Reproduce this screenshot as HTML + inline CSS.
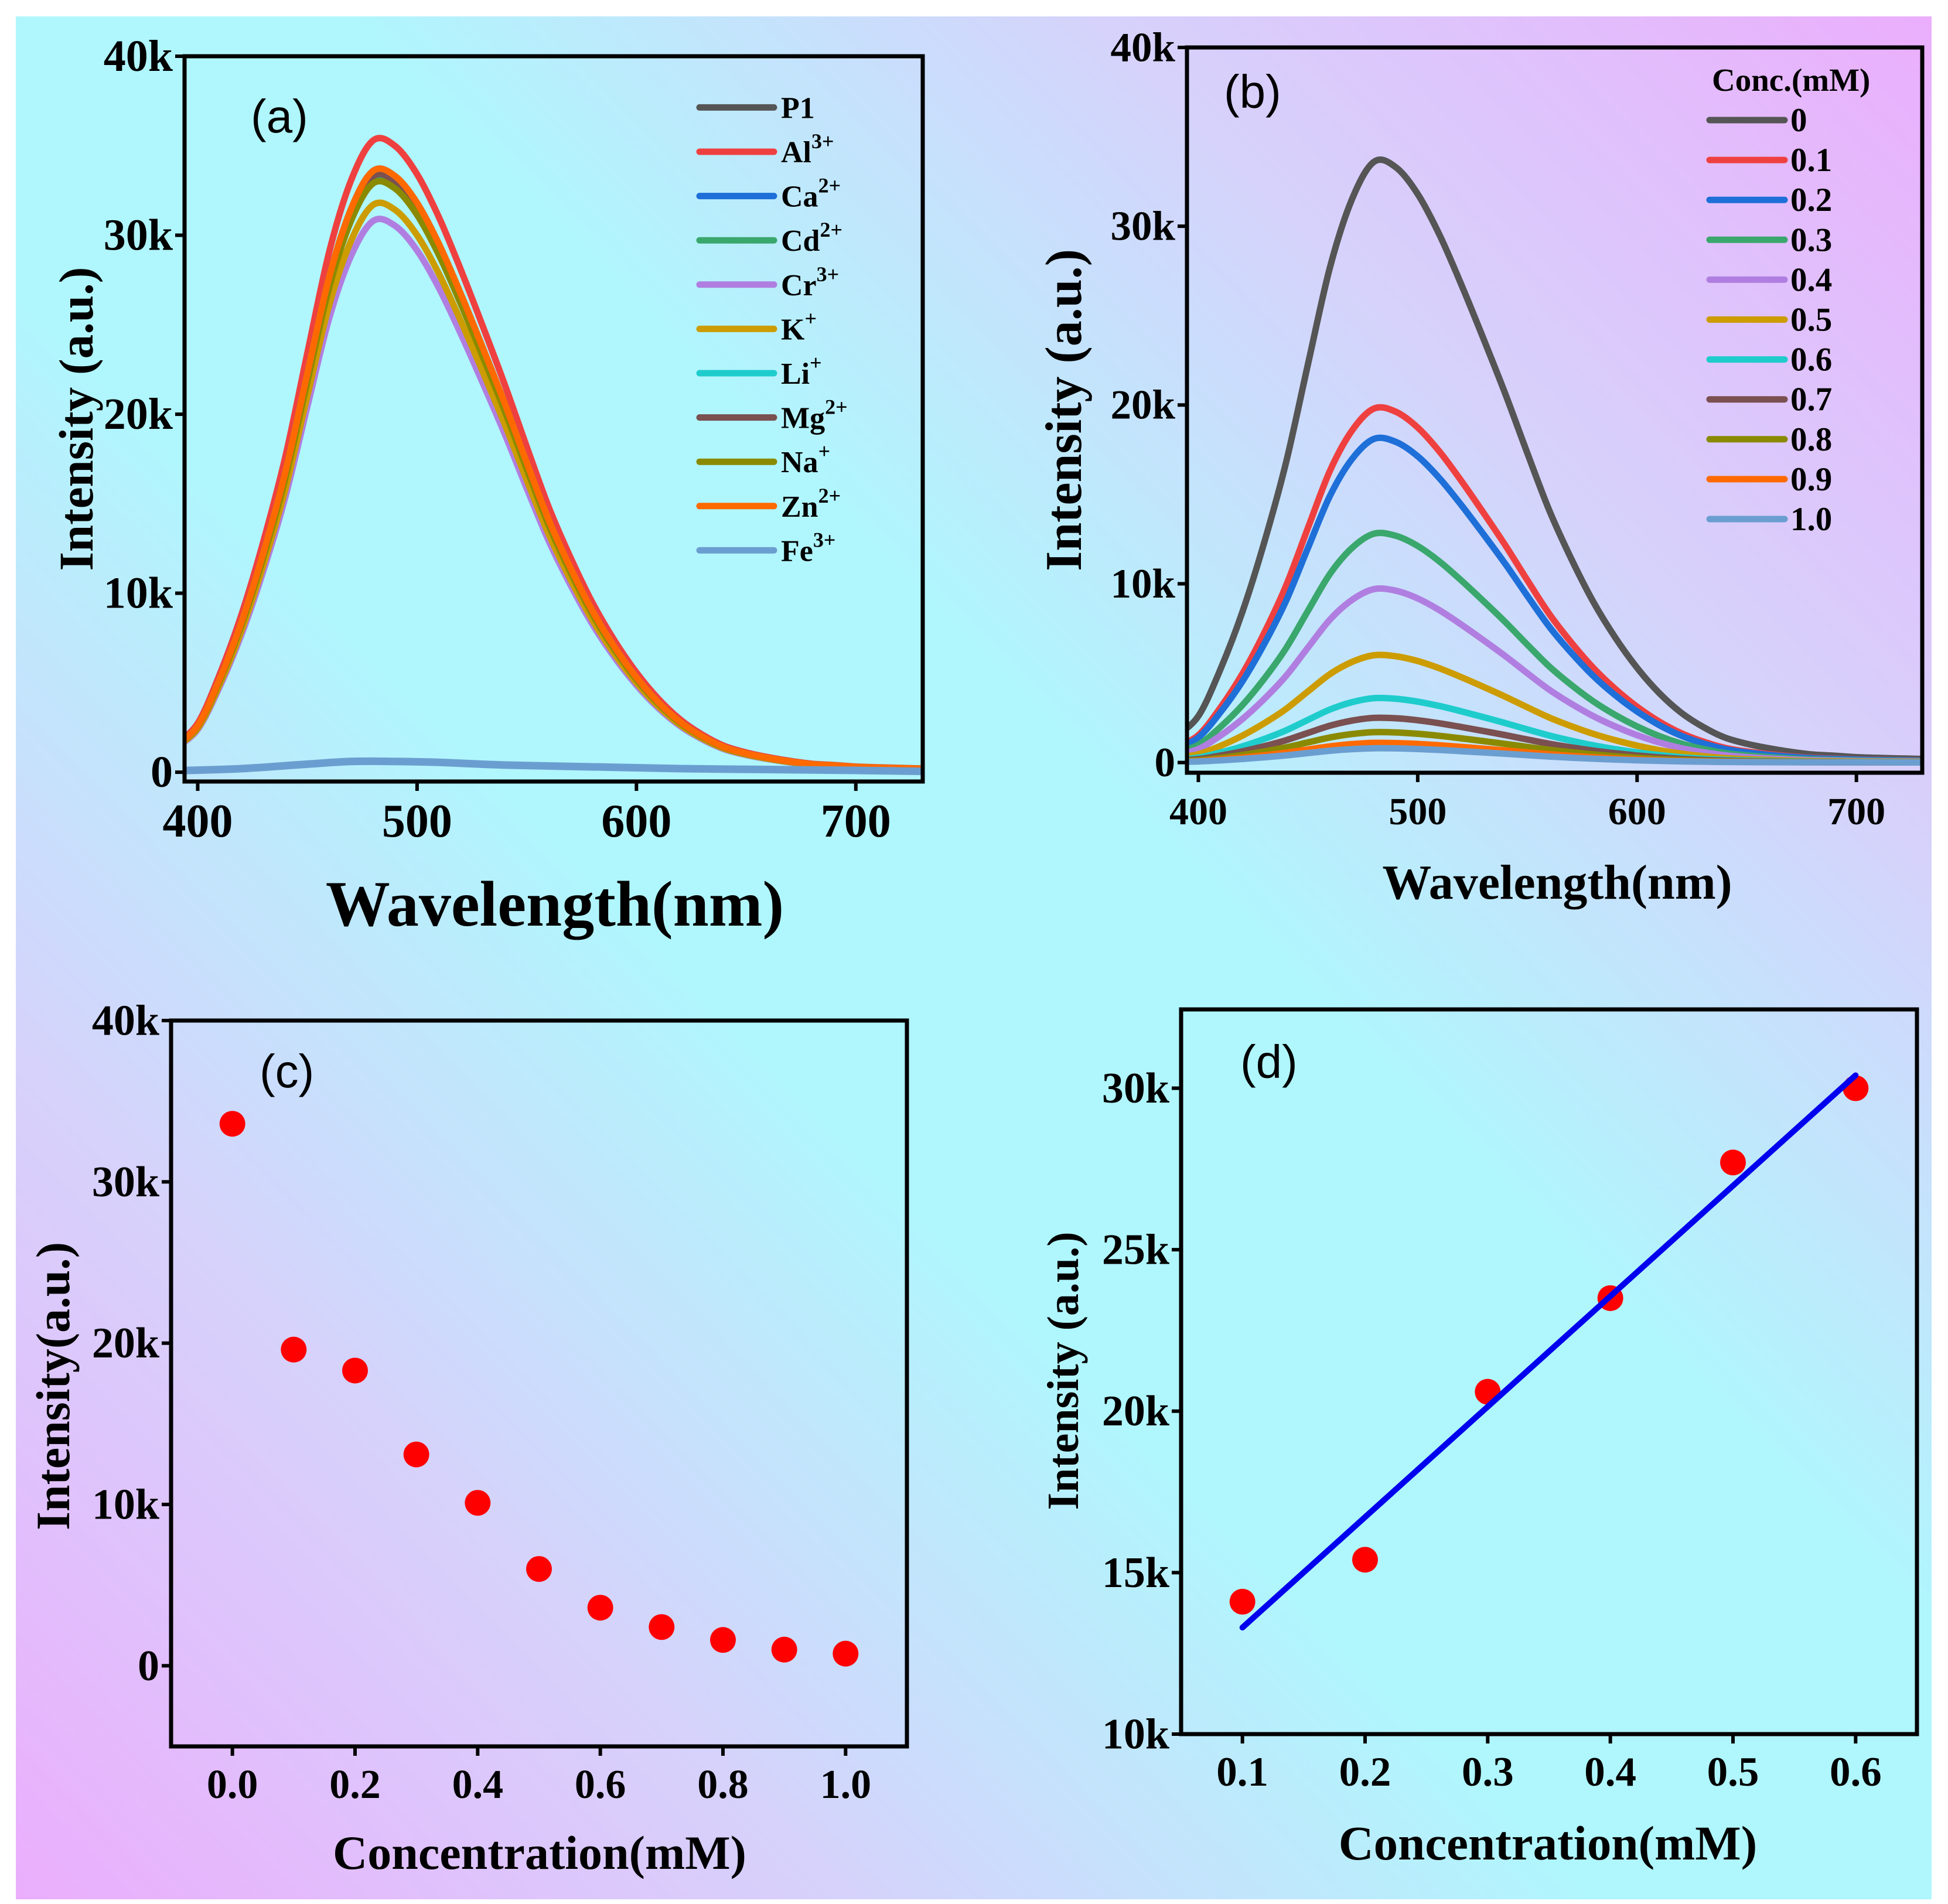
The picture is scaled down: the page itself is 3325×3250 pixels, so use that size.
<!DOCTYPE html>
<html><head><meta charset="utf-8"><style>
html,body{margin:0;padding:0;background:#fff;}
svg{display:block;}
text{font-family:"Liberation Serif",serif;font-weight:bold;fill:#000;}
.pl{font-family:"Liberation Sans",sans-serif;font-weight:normal;}
</style></head><body>
<svg id="fig" width="3325" height="3250" viewBox="0 0 3325 3250" xmlns="http://www.w3.org/2000/svg">
<defs>
<linearGradient id="bg" x1="27" y1="3242" x2="3297" y2="28" gradientUnits="userSpaceOnUse">
<stop offset="0" stop-color="#ebaefc"/><stop offset="0.22" stop-color="#d6d2fb"/><stop offset="0.42" stop-color="#b0f6fd"/><stop offset="0.58" stop-color="#b0f6fd"/><stop offset="0.78" stop-color="#d6d2fb"/><stop offset="1" stop-color="#ebaefc"/>
</linearGradient>
</defs>
<rect x="27" y="28" width="3270" height="3214" fill="url(#bg)"/>
<g id="root"></g>
</svg>
<script>
// shared spectral profile (10 nm steps)
const wl = [390,400,410,420,430,440,450,460,470,480,490,500,510,520,530,540,550,560,570,580,590,600,610,620,630,640,650,660,670,680,690,700,710,720,730];
const shape = [1.5,2.6,5.2,8.4,12.3,16.8,22.3,27.7,31.5,33.6,33.3,31.8,29.5,26.7,23.7,20.6,17.3,14.1,11.4,9.0,7.0,5.3,3.9,2.8,2.0,1.4,1.05,0.8,0.6,0.45,0.38,0.3,0.26,0.23,0.2];
// panel a
const ionNames = ["P1","Al","Ca","Cd","Cr","K","Li","Mg","Na","Zn","Fe"];
const ionSup = ["","3+","2+","2+","3+","+","+","2+","+","2+","3+"];
const ionPeaks = [33.4,35.3,33.6,33.2,30.8,31.7,33.3,33.3,32.9,33.6,0];
const feWl = [395,420,450,470,490,510,540,580,620,660,700,730];
const feVals = [0.1,0.2,0.45,0.6,0.6,0.55,0.4,0.3,0.2,0.15,0.1,0.05];
const ionColors = ["#555555","#ef4040","#1e6fd8","#3aa76d","#b07ee0","#cc9c00","#1fcccc","#7a5050","#8a8a00","#ff6a00","#6b9ed0"];
// panel b
const concLabels = ["0","0.1","0.2","0.3","0.4","0.5","0.6","0.7","0.8","0.9","1.0"];
const concPeaks = [33.6,19.8,18.1,12.8,9.7,6.0,3.6,2.5,1.7,1.1,0.8];
// panel c
const cX = [0,0.1,0.2,0.3,0.4,0.5,0.6,0.7,0.8,0.9,1.0];
const cY = [33.6,19.6,18.3,13.1,10.1,6.0,3.6,2.4,1.6,1.0,0.75];
// panel d
const dX = [0.1,0.2,0.3,0.4,0.5,0.6];
const dY = [14.1,15.4,20.6,23.5,27.7,30.0];
const fitX = [0.1,0.6];
const fitY = [13.3,30.4];

const NS="http://www.w3.org/2000/svg";
const root=document.getElementById('root');
function el(tag,attrs,parent){const e=document.createElementNS(NS,tag);for(const k in attrs)e.setAttribute(k,attrs[k]);(parent||root).appendChild(e);return e;}

function panel(name,L,R,T,B,xmin,xmax,ymin,ymax){
  const g=el('g',{});
  
  
  const sx=v=>L+(v-xmin)/(xmax-xmin)*(R-L);
  const sy=v=>B-(v-ymin)/(ymax-ymin)*(B-T);
  return {g,sx,sy,L,R,T,B};
}
function frame(p){
  const r=el('rect',{x:p.L,y:p.T,width:p.R-p.L,height:p.B-p.T,fill:'none',stroke:'#000','stroke-width':7},p.g);
  
  
}
function yTicks(p,vals,labels,fs){
  vals.forEach((v,i)=>{
    const y=p.sy(v);
    const t=el('line',{x1:p.L-16,x2:p.L,y1:y,y2:y,stroke:'#000','stroke-width':6},p.g);
    
    
    const tx=el('text',{x:p.L-20,y:y+fs*0.33,'text-anchor':'end','font-size':fs},p.g);
    
    
    tx.textContent=labels[i];
  });
}
function xTicks(p,vals,labels,fs,base){
  vals.forEach((v,i)=>{
    const x=p.sx(v);
    const t=el('line',{x1:x,x2:x,y1:p.B,y2:p.B+16,stroke:'#000','stroke-width':6},p.g);
    
    
    const tx=el('text',{x:x,y:base,'text-anchor':'middle','font-size':fs},p.g);
    
    
    tx.textContent=labels[i];
  });
}
function title(p,txt,x,y,fs,rot,nm){
  const t=el('text',{x:x,y:y,'text-anchor':'middle','font-size':fs},p.g);
  if(rot)t.setAttribute('transform','rotate(-90 '+x+' '+y+')');
  
  
  t.textContent=txt;
}
function plabel(p,txt,x,y){
  const t=el('text',{x:x,y:y,'font-size':80,class:'pl'},p.g);
  
  
  t.textContent=txt;
}
function curve(p,xs,ys,scale,color,w,nm){
  let d='';
  xs.forEach((x,i)=>{d+=(i?'L':'M')+p.sx(x).toFixed(1)+','+p.sy(ys[i]*scale).toFixed(1);});
  const c=el('path',{d:d,fill:'none',stroke:color,'stroke-width':w,'stroke-linejoin':'round','stroke-linecap':'round'},p.g);
  
  
  return c;
}
function clip(p,id){
  const cp=el('clipPath',{id:id},p.g);
  el('rect',{x:p.L,y:p.T,width:p.R-p.L,height:p.B-p.T},cp);
}
function smooth(p,xs,ys,scale){
  const pts=xs.map((x,i)=>[p.sx(x),p.sy(ys[i]*scale)]);
  let d='M'+pts[0][0]+','+pts[0][1];
  for(let i=0;i<pts.length-1;i++){
    const p0=pts[Math.max(0,i-1)],p1=pts[i],p2=pts[i+1],p3=pts[Math.min(pts.length-1,i+2)];
    const c1=[p1[0]+(p2[0]-p0[0])/6,p1[1]+(p2[1]-p0[1])/6];
    const c2=[p2[0]-(p3[0]-p1[0])/6,p2[1]-(p3[1]-p1[1])/6];
    d+='C'+c1.join(',')+' '+c2.join(',')+' '+p2.join(',');
  }
  return d;
}
function scurve(p,xs,ys,scale,color,w,nm,cid){
  const c=el('path',{d:smooth(p,xs,ys,scale),fill:'none',stroke:color,'stroke-width':w,'stroke-linecap':'round','clip-path':'url(#'+cid+')'},p.g);
  
  
}
const kLabels=["0","10k","20k","30k","40k"];

// ---- Panel A
const A=panel('panel-a',315,1575,96,1334,394,730.5,-0.52,40);
clip(A,'ca');
[0,1,2,3,4,5,6,7,8,9].forEach(i=>scurve(A,wl,shape,ionPeaks[i]/33.6,ionColors[i],11,'spectrum-'+ionNames[i].toLowerCase(),'ca'));
scurve(A,feWl,feVals,1,ionColors[10],13,'spectrum-fe','ca');
frame(A);
yTicks(A,[0,10,20,30,40],kLabels,76);
xTicks(A,[400,500,600,700],["400","500","600","700"],80,1428);
title(A,'Intensity (a.u.)',158,715,83,true,'y-axis-title');
title(A,'Wavelength(nm)',947,1580,110,false,'x-axis-title');
plabel(A,'(a)',428,226);
ionNames.forEach((n,i)=>{
  const y=183.4+i*75.6;
  const ln=el('line',{x1:1194,x2:1321,y1:y,y2:y,stroke:ionColors[i],'stroke-width':11,'stroke-linecap':'round'},A.g);
  
  
  const t=el('text',{x:1333,y:y+18,'font-size':52},A.g);
  
  
  t.textContent=n;
  if(ionSup[i]){const s=el('tspan',{dy:-24,'font-size':36},t);s.textContent=ionSup[i];}
});

// ---- Panel B
const Bp=panel('panel-b',2026,3281,81,1319,394.8,730,-0.57,40);
clip(Bp,'cb');
concPeaks.forEach((pk,i)=>scurve(Bp,wl,shape,pk/33.6,ionColors[i],11,'spectrum-'+concLabels[i],'cb'));
frame(Bp);
yTicks(Bp,[0,10,20,30,40],kLabels,71);
xTicks(Bp,[400,500,600,700],["400","500","600","700"],66,1407);
title(Bp,'Intensity (a.u.)',1845,700,88,true,'y-axis-title');
title(Bp,'Wavelength(nm)',2658,1534,84,false,'x-axis-title');
plabel(Bp,'(b)',2089,184);
const lt=el('text',{x:2922,y:155,'font-size':55},Bp.g);


lt.textContent='Conc.(mM)';
concLabels.forEach((n,i)=>{
  const y=205+i*68.1;
  const ln=el('line',{x1:2918,x2:3046,y1:y,y2:y,stroke:ionColors[i],'stroke-width':11,'stroke-linecap':'round'},Bp.g);
  
  
  const t=el('text',{x:3056,y:y+19,'font-size':57},Bp.g);
  
  
  t.textContent=n;
});

// ---- Panel C
const C=panel('panel-c',292,1548,1742,2981,-0.1,1.1,-5,40);
frame(C);
yTicks(C,[0,10,20,30,40],kLabels,74);
xTicks(C,[0,0.2,0.4,0.6,0.8,1.0],["0.0","0.2","0.4","0.6","0.8","1.0"],70,3069);
title(C,'Intensity(a.u.)',118,2366,82,true,'y-axis-title');
title(C,'Concentration(mM)',921,3190,82,false,'x-axis-title');
plabel(C,'(c)',443,1856);
cX.forEach((x,i)=>{
  const c=el('circle',{cx:C.sx(x),cy:C.sy(cY[i]),r:22,fill:'#ff0000'},C.g);
  
  
});

// ---- Panel D
const D=panel('panel-d',2016,3272,1723,2960,0.05,0.65,10,32.44);
frame(D);
yTicks(D,[10,15,20,25,30],["10k","15k","20k","25k","30k"],74);
xTicks(D,[0.1,0.2,0.3,0.4,0.5,0.6],["0.1","0.2","0.3","0.4","0.5","0.6"],71,3048);
title(D,'Intensity (a.u.)',1840,2340,76,true,'y-axis-title');
title(D,'Concentration(mM)',2642,3174,83,false,'x-axis-title');
plabel(D,'(d)',2117,1840);
dX.forEach((x,i)=>{
  const c=el('circle',{cx:D.sx(x),cy:D.sy(dY[i]),r:22,fill:'#ff0000'},D.g);
  
  
});
curve(D,fitX,fitY,1,'#0000ee',10,'fit-line');
</script>
</body></html>
